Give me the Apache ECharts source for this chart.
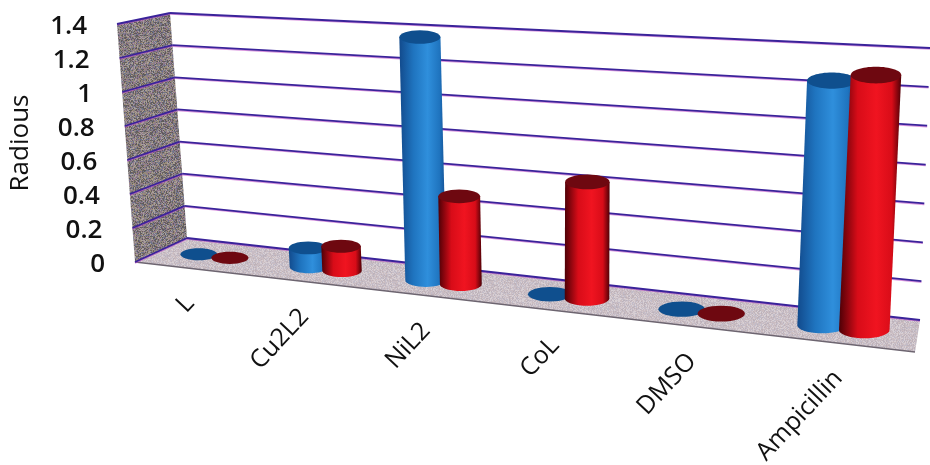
<!DOCTYPE html>
<html>
<head>
<meta charset="utf-8">
<style>
  html, body { margin: 0; padding: 0; background: #fff; }
  #chart { width: 930px; height: 465px; }
</style>
<script src="https://cdn.jsdelivr.net/npm/echarts@6/dist/echarts.min.js"></script>
</head>
<body>
<div id="chart"></div>
<script>
// values
var categories = ['L', 'Cu2L2', 'NiL2', 'CoL', 'DMSO', 'Ampicillin'];
var blueValues = [0, 0.11, 1.37, 0, 0, 1.25];
var redValues = [0, 0.14, 0.49, 0.63, 0, 1.29];
var yTicks = [0, 0.2, 0.4, 0.6, 0.8, 1, 1.2, 1.4];

// hidden grid, its pixels get warped to the tilted box below
var gridBox = { left: 100, top: 50, width: 700, height: 350 };

// box corners on screen
var backTL = [170, 13], backTR = [930, 48], backBL = [187, 238], backBR = [920, 320];
var frontTL = [117, 24], frontTR = [935, 64], frontBL = [135, 262], frontBR = [915, 352];
var perspective = 1.2;
var barDepth = 0.5;
var barOffset = 0.024;
var barHalf = 0.0285;

function mix(a, b, k) {
  return [a[0] + (b[0] - a[0]) * k, a[1] + (b[1] - a[1]) * k];
}

// t across, v up, w from back wall to front edge, all 0..1
function project(t, v, w) {
  var s = t / (t + perspective * (1 - t));
  var back = mix(mix(backBL, backBR, s), mix(backTL, backTR, s), v);
  var front = mix(mix(frontBL, frontBR, s), mix(frontTL, frontTR, s), v);
  return mix(back, front, w);
}

function toUnit(p) {
  return [(p[0] - gridBox.left) / gridBox.width, (gridBox.top + gridBox.height - p[1]) / gridBox.height];
}

// grainy scan look, fixed sequence
function grain(colors) {
  var c = document.createElement('canvas');
  c.width = c.height = 96;
  var ctx = c.getContext('2d');
  var seed = 17;
  for (var y = 0; y < 96; y++) {
    for (var x = 0; x < 96; x++) {
      seed = (seed * 1103515245 + 12345) % 2147483648;
      ctx.fillStyle = colors[(seed >> 12) % colors.length];
      ctx.fillRect(x, y, 1, 1);
    }
  }
  return { image: c, repeat: 'repeat' };
}

var wallFill = grain(['#5f5a5c', '#8a8486', '#9a8c78', '#70748c', '#a8a09c', '#6a6362', '#92788e']);
var floorFill = grain(['#c8bcc4', '#d2c8ce', '#bdb2ba', '#cbbdc0', '#c2bcc8', '#d8d0d4']);

function poly(points, style, z) {
  return { type: 'polygon', shape: { points: points }, style: style, z2: z || 0 };
}

function edge(a, b, z) {
  return {
    type: 'group',
    children: [
      { type: 'line', shape: { x1: a[0], y1: a[1] + 1, x2: b[0], y2: b[1] + 1 }, style: { stroke: '#c050c8', lineWidth: 1.5, opacity: 0.6 } },
      { type: 'line', shape: { x1: a[0], y1: a[1], x2: b[0], y2: b[1] }, style: { stroke: '#3a239a', lineWidth: 1.8 } }
    ]
  };
}

function renderScene() {
  return {
    type: 'group',
    children: [
      poly([backTL, backBL, frontBL, frontTL], { fill: wallFill }),
      poly([backBL, backBR, frontBR, frontBL], { fill: floorFill }),
      { type: 'line', shape: { x1: frontBL[0], y1: frontBL[1], x2: frontBR[0], y2: frontBR[1] }, style: { stroke: '#6d6570', lineWidth: 1.5 } }
    ]
  };
}

function renderTick(params, api) {
  var v = toUnit(api.coord([0, api.value(0)]))[1];
  var left = project(0, v, 0);
  var right = project(1, v, 0);
  var side = project(0, v, 1);
  return {
    type: 'group',
    children: [
      edge(left, right),
      edge(left, side),
      {
        type: 'text',
        style: {
          x: side[0] - 30, y: side[1] + 3,
          text: String(api.value(0)),
          align: 'right', verticalAlign: 'middle',
          font: '600 26px "Open Sans"', fill: '#111'
        }
      }
    ]
  };
}

function renderCategory(params, api) {
  var t = toUnit(api.coord([api.value(0), 0]))[0];
  var p = project(t, 0, 1);
  return {
    type: 'text',
    x: p[0], y: p[1] + 31,
    rotation: 0.82,
    style: {
      x: 0, y: 0,
      text: categories[params.dataIndex],
      align: 'right', verticalAlign: 'middle',
      font: '500 25px "Open Sans"', fill: '#111'
    }
  };
}

function cylinder(side, colors) {
  return function (params, api) {
    var unit = toUnit(api.coord([api.value(0), api.value(1)]));
    var t = unit[0] + side * barOffset;
    var base = project(t, 0, barDepth);
    var top = project(t, unit[1], barDepth);
    var rxBase = (project(t + barHalf, 0, barDepth)[0] - project(t - barHalf, 0, barDepth)[0]) / 2;
    var ry = rxBase * 0.33;
    var children = [];
    if (api.value(1) > 0) {
      var points = [[top[0] - rxBase, top[1]]];
      for (var a = 180; a >= 0; a -= 10) {
        var rad = a * Math.PI / 180;
        points.push([base[0] + rxBase * Math.cos(rad), base[1] + ry * Math.sin(rad)]);
      }
      points.push([top[0] + rxBase, top[1]]);
      children.push(poly(points, {
        fill: new echarts.graphic.LinearGradient(0, 0, 1, 0, [
          { offset: 0, color: colors.dark },
          { offset: 0.3, color: colors.main },
          { offset: 0.6, color: colors.bright },
          { offset: 0.85, color: colors.main },
          { offset: 1, color: colors.dark }
        ])
      }));
    }
    children.push({
      type: 'ellipse',
      shape: { cx: top[0], cy: top[1], rx: rxBase, ry: ry },
      style: { fill: colors.cap }
    });
    return { type: 'group', children: children };
  };
}

var blueColors = { dark: '#124a8c', main: '#1f74bf', bright: '#2f8fdc', cap: '#0f4f8e' };
var redColors = { dark: '#4d0006', main: '#d80c18', bright: '#f01420', cap: '#6e0810' };

var chart = echarts.init(document.getElementById('chart'));

var option = {
  animation: false,
  backgroundColor: '#fff',
  grid: gridBox,
  xAxis: { type: 'category', data: categories, show: false },
  yAxis: { type: 'value', min: 0, max: 1.4, interval: 0.2, show: false, splitLine: { show: false } },
  graphic: [{
    type: 'text',
    x: 21, y: 143,
    rotation: Math.PI / 2,
    style: { text: 'Radious', align: 'center', verticalAlign: 'middle', font: '26px "Open Sans"', fill: '#111' }
  }],
  series: [
    { type: 'custom', silent: true, data: [[0]], renderItem: renderScene, clip: false },
    { type: 'custom', silent: true, data: yTicks.map(function (v) { return [v]; }), encode: { y: 0 }, renderItem: renderTick, clip: false },
    { type: 'custom', silent: true, data: categories.map(function (c, i) { return [i]; }), encode: { x: 0 }, renderItem: renderCategory, clip: false },
    { type: 'custom', silent: true, data: blueValues.map(function (v, i) { return [i, v]; }), encode: { x: 0, y: 1 }, renderItem: cylinder(-1, blueColors), clip: false },
    { type: 'custom', silent: true, data: redValues.map(function (v, i) { return [i, v]; }), encode: { x: 0, y: 1 }, renderItem: cylinder(1, redColors), clip: false }
  ]
};

chart.setOption(option);
</script>
</body>
</html>
